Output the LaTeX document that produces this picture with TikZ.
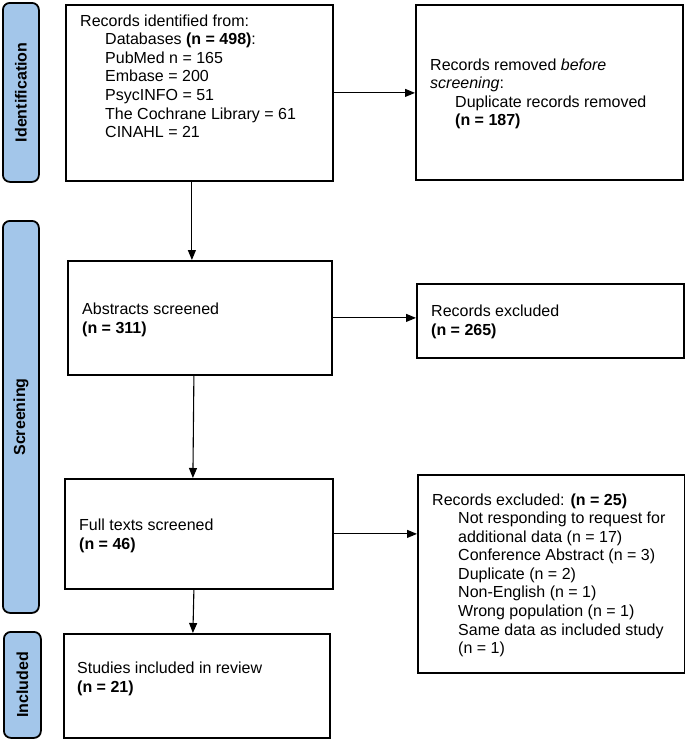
\documentclass[tikz,border=0pt]{standalone}
\usepackage{fontspec}
\setmainfont{Liberation Sans}
\usetikzlibrary{arrows.meta}
\definecolor{barblue}{HTML}{A3C6EA}
\tikzset{
  box/.style={draw=black, line width=1.8pt, fill=white, inner sep=0pt, anchor=north west},
  bar/.style={draw=black, line width=1.8pt, fill=barblue, rounded corners=7pt, inner sep=0pt, anchor=north west},
  barlabel/.style={rotate=90, font=\fontsize{16}{19}\selectfont\bfseries},
  txt/.style={anchor=base west, inner sep=0pt, align=left, font=\fontsize{16}{18.6}\selectfont},
  arr/.style={draw=black, line width=1.1pt, -{Triangle[length=10pt,width=8pt]}}
}
\begin{document}
\begin{tikzpicture}[x=1pt,y=-1pt]
\useasboundingbox (0,0) rectangle (685,740);
% side bars
\node[bar, minimum width=36pt, minimum height=179pt] (bid) at (2,2) {};
\node[barlabel] at (bid.center) {Identification};
\node[bar, minimum width=36pt, minimum height=392pt] (bsc) at (2,220) {};
\node[barlabel] at (bsc.center) {Screening};
\node[bar, minimum width=37pt, minimum height=106pt] (bin) at (3,631) {};
\node[barlabel] at (bin.center) {Included};
% boxes
\node[box, minimum width=267pt, minimum height=176pt] (b1) at (65,4) {};
\node[box, minimum width=267pt, minimum height=175pt] (rm) at (415,4) {};
\node[box, minimum width=264pt, minimum height=114pt] (ab) at (67,260) {};
\node[box, minimum width=267pt, minimum height=74pt] (ex1) at (416,283) {};
\node[box, minimum width=268pt, minimum height=110pt] (ft) at (64,478) {};
\node[box, minimum width=267pt, minimum height=198pt] (ex2) at (417,474) {};
\node[box, minimum width=266pt, minimum height=104pt] (st) at (63,633) {};
% texts (anchored at the baseline of their last line)
\node[txt] (t1a) at (80,26) {Records identified from:};
\node[txt] (t1b) at (105,137.6) {Databases \textbf{(n = 498)}:\\PubMed n = 165\\Embase = 200\\PsycINFO = 51\\The Cochrane Library = 61\\CINAHL = 21};
\node[txt] (t2a) at (430,88.6) {Records removed \textit{before}\\\textit{screening}:};
\node[txt] (t2b) at (455,125.6) {Duplicate records removed\\\textbf{(n = 187)}};
\node[txt] (t3) at (82,333) {Abstracts screened\\\textbf{(n = 311)}};
\node[txt] (t4) at (431,335) {Records excluded\\\textbf{(n = 265)}};
\node[txt] (t5) at (79,549) {Full texts screened\\\textbf{(n = 46)}};
\node[txt] (t6a) at (432,505) {Records excluded: \textbf{(n = 25)}};
\node[txt] (t6b) at (458,653.7) {Not responding to request for\\additional data (n = 17)\\Conference Abstract (n = 3)\\Duplicate (n = 2)\\Non-English (n = 1)\\Wrong population (n = 1)\\Same data as included study\\(n = 1)};
\node[txt] (t7) at (77,692) {Studies included in review\\\textbf{(n = 21)}};
% connectors
\draw[arr] ([xshift=-7.5pt]b1.south) -- ([xshift=-8pt]ab.north);
\draw[arr] ([xshift=-6pt]ab.south) -- ([xshift=-6pt]ft.north);
\draw[arr] ([xshift=-5pt]ft.south) -- ([xshift=-4pt]st.north);
\draw[arr] (b1.east) -- (b1.east -| rm.west);
\draw[arr] (ab.east) -- (ab.east -| ex1.west);
\draw[arr] (ft.east) -- (ft.east -| ex2.west);
\end{tikzpicture}
\end{document}
